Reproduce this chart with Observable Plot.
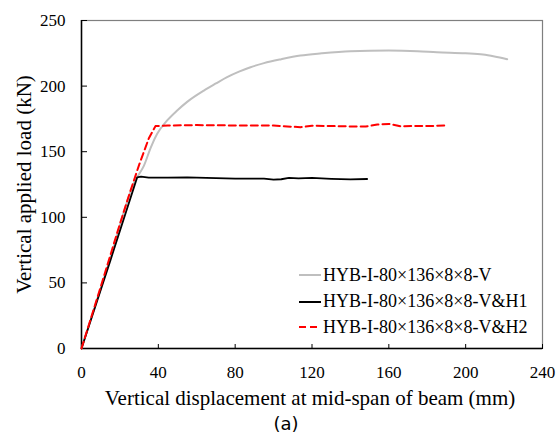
<!DOCTYPE html>
<html>
<head>
<meta charset="utf-8">
<script src="https://cdn.jsdelivr.net/npm/d3@7"></script>
<script src="https://cdn.jsdelivr.net/npm/@observablehq/plot@0.6"></script>
<style>
  body { margin: 0; background: #fff; }
  #chart { position: relative; width: 557px; height: 437px; background: #fff; }
  .leg { position: absolute; left: 299px; height: 20px; display: flex; align-items: center;
         font-family: 'Liberation Serif', serif; font-size: 18px; color: #000; white-space: nowrap; }
  .leg svg { margin-right: 2px; }
</style>
</head>
<body>
<div id="chart"></div>
<script>
const seriesNames = ["HYB-I-80×136×8×8-V", "HYB-I-80×136×8×8-V&H1", "HYB-I-80×136×8×8-V&H2"];
const seriesColors = ["#bfbfbf", "#000000", "#ff0000"];

// Series V (grey)
const vX = [0, 14, 28, 30, 32.4, 36, 39.4, 44.6, 49.8, 55, 63.7, 70, 75.8, 82, 88, 95, 104, 114, 125, 140, 160, 175, 185, 200, 209, 215, 221.6];
const vY = [0, 64, 128, 133, 139, 153, 163.6, 173.8, 181.4, 188, 196.6, 202, 206.8, 211, 214.4, 217.5, 220.5, 223.3, 225, 226.6, 227.1, 226.6, 225.8, 225, 224.1, 222.6, 220.5];

// Series V&H1 (black)
const h1X = [0, 15, 29, 31, 35, 45, 55, 65, 80, 95, 100, 104, 108, 113, 120, 130, 140, 148.7];
const h1Y = [0, 67, 130.5, 131, 130.3, 130.3, 130.5, 130, 129.5, 129.5, 128.7, 129, 130, 129.7, 130, 129.3, 128.9, 129.2];

// Series V&H2 (red dashed)
const h2X = [0, 10, 20, 25, 30, 35, 38.5, 45, 60, 80, 100, 110, 114, 120, 143.5, 148, 154, 160, 166, 172, 180, 190.4];
const h2Y = [0, 47, 95, 118, 140, 160, 169.5, 170, 170.3, 170, 170, 169, 168.7, 169.8, 169.2, 169.2, 170.7, 171.2, 169.4, 169.6, 169.5, 170];

const xTicks = [0, 40, 80, 120, 160, 200, 240];
const yTicks = [0, 50, 100, 150, 200, 250];
const xTitle = "Vertical displacement at mid-span of beam (mm)";
const yTitle = "Vertical applied load (kN)";
const caption = "(a)";

const serif = "Liberation Serif";
const toRows = (xs, ys) => xs.map((x, i) => ({x, y: ys[i]}));
const vData = toRows(vX, vY);
const h1Data = toRows(h1X, h1Y);
const h2Data = toRows(h2X, h2Y);

const chart = Plot.plot({
  width: 557,
  height: 437,
  marginTop: 20,
  marginRight: 15,
  marginBottom: 89,
  marginLeft: 81,
  style: { fontSize: "17px", background: "#fff", color: "#000", overflow: "visible" },
  x: { domain: [0, 240] },
  y: { domain: [0, 250] },
  marks: [
    Plot.frame({ stroke: "#7f7f7f", strokeWidth: 1.2 }),
    Plot.axisX({ ticks: xTicks, tickSize: 0, tickPadding: 17, label: null, fontSize: 17, fontFamily: serif, fill: "#000" }),
    Plot.axisX({ ticks: xTicks, anchor: "top", frameAnchor: "bottom", tickSize: 5, text: null, label: null, stroke: "#000" }),
    Plot.axisY({ ticks: yTicks, tickSize: 0, tickPadding: 16, label: null, fontSize: 17, fontFamily: serif, fill: "#000" }),
    Plot.axisY({ ticks: yTicks, anchor: "right", frameAnchor: "left", tickSize: 5, text: null, label: null, stroke: "#000" }),
    Plot.ruleX([0], { stroke: "#000", strokeWidth: 1.5 }),
    Plot.ruleY([0], { stroke: "#000", strokeWidth: 1.5 }),
    Plot.line(vData, { x: "x", y: "y", stroke: seriesColors[0], strokeWidth: 2, curve: "monotone-x" }),
    Plot.line(h1Data, { x: "x", y: "y", stroke: seriesColors[1], strokeWidth: 1.8 }),
    Plot.line(h2Data, { x: "x", y: "y", stroke: seriesColors[2], strokeWidth: 2, strokeDasharray: "7,4" }),
    Plot.text([xTitle], { text: d => d, frameAnchor: "bottom", dx: -2, dy: 50, lineAnchor: "middle", textAnchor: "middle", fontSize: 21, fontFamily: serif, fill: "#000" }),
    Plot.text([yTitle], { text: d => d, frameAnchor: "left", dx: -57, rotate: -90, lineAnchor: "middle", textAnchor: "middle", fontSize: 21, fontFamily: serif, fill: "#000" }),
    Plot.text([caption], { text: d => d, frameAnchor: "bottom", dx: -26, dy: 76, lineAnchor: "middle", textAnchor: "middle", fontSize: 18, fontFamily: "DejaVu Sans", fill: "#000" })
  ]
});

const container = document.getElementById("chart");
container.appendChild(chart);

const legendRowsY = [275, 301.5, 327];
seriesNames.forEach((name, i) => {
  const row = document.createElement("div");
  row.className = "leg";
  row.style.top = (legendRowsY[i] - 10) + "px";
  row.style.fontFamily = "'Liberation Serif', serif";
  const dash = i === 2 ? 'stroke-dasharray="7,4"' : "";
  row.innerHTML = `<svg width="22" height="20"><line x1="0" x2="22" y1="10" y2="10" stroke="${seriesColors[i]}" stroke-width="2" ${dash}/></svg><span style="font-family:'Liberation Serif'">${name.replace("&", "&amp;")}</span>`;
  container.appendChild(row);
});
</script>
</body>
</html>
